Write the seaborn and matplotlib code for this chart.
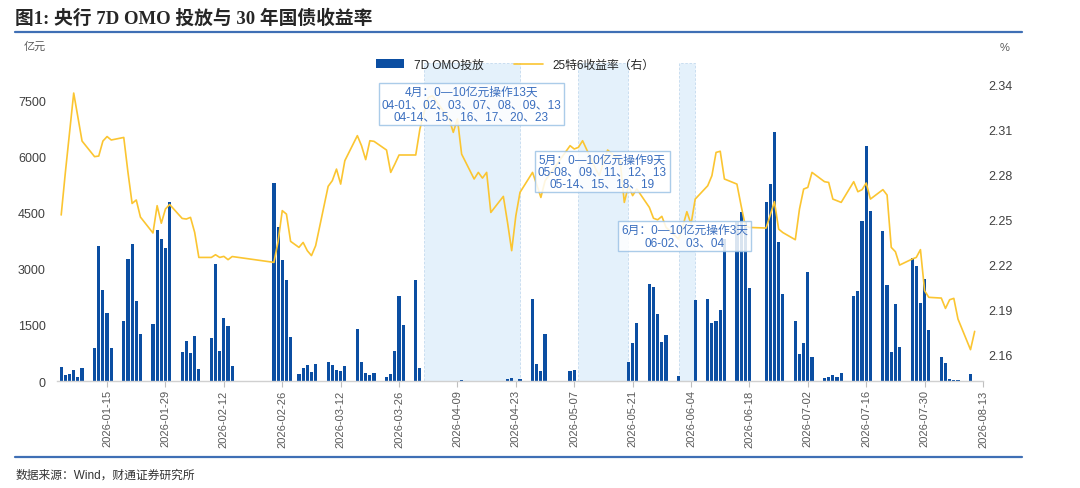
import numpy as np
import pandas as pd
import matplotlib
matplotlib.use('Agg')
import matplotlib.pyplot as plt
import matplotlib.dates as mdates
from matplotlib.patches import Patch
from matplotlib.lines import Line2D
import seaborn as sns

# trading calendar 2026 (weekends skipped, holiday shifts applied)
holidays = ['2026-02-16', '2026-02-17', '2026-02-18', '2026-02-19', '2026-02-20',
            '2026-02-23', '2026-04-06', '2026-05-01', '2026-05-04', '2026-05-05',
            '2026-06-19']
extra_workdays = ['2026-01-04', '2026-02-14', '2026-02-28', '2026-05-09']
days = (pd.bdate_range('2026-01-04', '2026-08-11')
        .difference(pd.to_datetime(holidays))
        .union(pd.to_datetime(extra_workdays)))

# 7D OMO投放 (亿元)
omo = [
    # Jan
    370, 150, 175, 290, 105, 345, 880, 3600, 2425, 1805, 880, 1600, 3255, 3655, 2125, 1260,
    1520, 4035, 3795, 3555, 4790,
    # Feb
    770, 1065, 760, 1200, 330, 1145, 3120, 800, 1680, 1465, 400, 5280, 4120, 3220, 2710, 1175,
    # Mar
    195, 350, 415, 240, 460, 495, 415, 285, 255, 390, 1385, 520, 220, 150, 220, 100, 195, 800,
    2260, 1485, 2710, 345,
    # Apr
    5, 5, 5, 5, 5, 5, 20, 5, 5, 5, 5, 5, 5, 60, 70, 5, 45, 2195, 445, 260, 1260,
    # May
    270, 285, 5, 5, 5, 5, 5, 5, 5, 5, 5, 520, 1013, 1547, 2595, 2507, 1795, 1030, 1240,
    # Jun
    125, 5, 5, 5, 2170, 2195, 1547, 1600, 1890, 3800, 4250, 4500, 4250, 2480, 4790, 5262,
    6640, 3724, 2328, 1590, 710,
    # Jul
    1013, 2907, 640, 80, 115, 168, 115, 213, 2258, 2391, 4285, 6285, 4534, 4000, 2551, 773,
    2062, 907, 3280, 3067, 2080, 2729, 1351,
    # Aug
    640, 480, 60, 25, 25, 195, 0,
]

# 25特6收益率 (%)
yld = [
    # Jan
    2.2527, 2.2811, 2.3076, 2.334, 2.318, 2.302, 2.2916, 2.292, 2.302, 2.305, 2.3027,
    2.3044, 2.2813, 2.2604, 2.2627, 2.2513, 2.2407, 2.2589, 2.2472, 2.2567, 2.2597,
    # Feb
    2.2504, 2.25, 2.2511, 2.2411, 2.2244, 2.2244, 2.2262, 2.2244, 2.2251, 2.2229, 2.225,
    2.2211, 2.235, 2.2556, 2.2533, 2.2351,
    # Mar
    2.2311, 2.2344, 2.2289, 2.2256, 2.2322, 2.2718, 2.2756, 2.2833, 2.2733, 2.2889,
    2.3056, 2.2989, 2.2896, 2.3022, 2.3018, 2.296, 2.2811, 2.2867, 2.2927, 2.2927,
    2.2927, 2.31,
    # Apr
    2.3211, 2.3311, 2.3322, 2.3167, 2.3078, 2.3167, 2.2933, 2.2767, 2.2811, 2.2773,
    2.2811, 2.2544, 2.2651, 2.2478, 2.2289, 2.2522, 2.2678, 2.2811, 2.273, 2.2644, 2.2755,
    # May
    2.2989, 2.2967, 2.2978, 2.3022, 2.2902, 2.2842, 2.2789, 2.2876, 2.296, 2.2889,
    2.2611, 2.2722, 2.2656, 2.27, 2.2578, 2.2505, 2.2495, 2.2518, 2.2445,
    # Jun
    2.2367, 2.245, 2.2549, 2.2467, 2.2633, 2.2722, 2.2789, 2.2944, 2.2952, 2.2767,
    2.2733, 2.259, 2.2456, 2.2444, 2.244, 2.2527, 2.2616, 2.2433, 2.241, 2.2362, 2.2567,
    # Jul
    2.27, 2.2711, 2.2811, 2.2749, 2.2744, 2.2633, 2.2622, 2.2611, 2.2749, 2.2682,
    2.2696, 2.274, 2.2633, 2.2696, 2.266, 2.2311, 2.2282, 2.2193, 2.2233, 2.2244,
    2.2296, 2.2022, 2.1978,
    # Aug
    2.1973, 2.1904, 2.1962, 2.1971, 2.1833, 2.1629, 2.1751,
]

# 0-10亿元 operation periods (shaded)
span_start = ['2026-04-01', '2026-05-08', '2026-06-01']
span_end = ['2026-04-24', '2026-05-20', '2026-06-05']
notes = [
    '4月：0—10亿元操作13天\n04-01、02、03、07、08、09、13\n04-14、15、16、17、20、23',
    '5月：0—10亿元操作9天\n05-08、09、11、12、13\n05-14、15、18、19',
    '6月：0—10亿元操作3天\n06-02、03、04',
]
note_xy = [(0.4476, 0.871), (0.5886, 0.659), (0.6776, 0.456)]

left_ticks = [0, 1500, 3000, 4500, 6000, 7500]
right_ticks = [2.16, 2.19, 2.22, 2.25, 2.28, 2.31, 2.34]
tick_dates = pd.date_range('2026-01-15', '2026-08-13', freq='14D')

df = pd.DataFrame({'date': days, 'omo': omo, 'yld': yld})

sns.set_theme(style='white')
plt.rcParams['font.family'] = ['Liberation Sans', 'Noto Sans CJK SC']
plt.rcParams['axes.unicode_minus'] = False

bar_color = '#0B4EA2'
line_color = '#FBC531'
note_color = '#3A6EBF'

fig = plt.figure(figsize=(10.8, 4.89), dpi=100)
ax = fig.add_axes([0.0528, 0.2188, 0.8574, 0.6502])

for s, e in zip(span_start, span_end):
    ax.axvspan(pd.Timestamp(s), pd.Timestamp(e), facecolor='#E4F1FB',
               edgecolor='#C3DAEE', linestyle=(0, (3, 2)), linewidth=0.6, zorder=0)

ax.bar(df['date'], df['omo'], width=0.76, color=bar_color, linewidth=0, zorder=2)

ax2 = ax.twinx()
sns.lineplot(data=df, x='date', y='yld', ax=ax2, color=line_color, linewidth=1.2,
             legend=False, zorder=3)

ax.set_xlim(pd.Timestamp('2026-01-03'), pd.Timestamp('2026-08-13'))
ax.set_ylim(0, 8490)
ax2.set_ylim(2.142, 2.354)
ax.set_yticks(left_ticks)
ax2.set_yticks(right_ticks)
ax2.set_yticklabels([f'{v:.2f}' for v in right_ticks])
ax.set_xticks(tick_dates)
ax.xaxis.set_major_formatter(mdates.DateFormatter('%Y-%m-%d'))
plt.setp(ax.get_xticklabels(), rotation=90)
for a in (ax, ax2):
    a.set_xlabel('')
    a.set_ylabel('')
    for side in ('top', 'left', 'right'):
        a.spines[side].set_visible(False)
ax2.spines['bottom'].set_visible(False)
ax.spines['bottom'].set_color('#D0D0D0')
ax.spines['bottom'].set_linewidth(1)

ax.tick_params(axis='x', length=4, width=0.8, color='#BFBFBF', labelsize=8,
               labelcolor='#595959', pad=2, bottom=True)
ax.tick_params(axis='y', length=0, labelsize=9, labelcolor='#404040', pad=8)
ax2.tick_params(axis='y', length=0, labelsize=9, labelcolor='#404040', pad=4)

for txt, (x, y) in zip(notes, note_xy):
    ax2.text(x, y, txt, transform=ax2.transAxes, ha='center', va='center',
             multialignment='center', fontsize=8.5, color=note_color, linespacing=1.0,
             zorder=10,
             bbox=dict(boxstyle='square,pad=0.25', facecolor='white', alpha=0.85,
                       edgecolor='#9DC3E6', linewidth=1))

handles = [Patch(facecolor=bar_color, edgecolor='none'),
           Line2D([], [], color=line_color, linewidth=1.2)]
fig.legend(handles, ['7D OMO投放', '25特6收益率（右）'], loc='center',
           bbox_to_anchor=(0.477, 0.865), ncol=2, frameon=False, fontsize=8.5,
           handlelength=2.4, handleheight=0.8, columnspacing=2.6, handletextpad=0.8)

fig.text(0.014, 0.963, '图1: 央行 7D OMO 投放与 30 年国债收益率', fontsize=13.5,
         fontweight='bold', va='center', family=['Liberation Serif', 'Noto Sans CJK SC'])
fig.add_artist(Line2D([0.014, 0.946], [0.9325, 0.9325], transform=fig.transFigure,
                      color='#3F6FB5', linewidth=1.6))
fig.add_artist(Line2D([0.014, 0.946], [0.0644, 0.0644], transform=fig.transFigure,
                      color='#3F6FB5', linewidth=1.6))
fig.text(0.022, 0.904, '亿元', fontsize=8, color='#595959', va='center')
fig.text(0.926, 0.902, '%', fontsize=8, color='#595959', va='center')
fig.text(0.014, 0.027, '数据来源：Wind，财通证券研究所', fontsize=8.5, color='#333333',
         va='center')

fig.savefig('out.png', dpi=100)
